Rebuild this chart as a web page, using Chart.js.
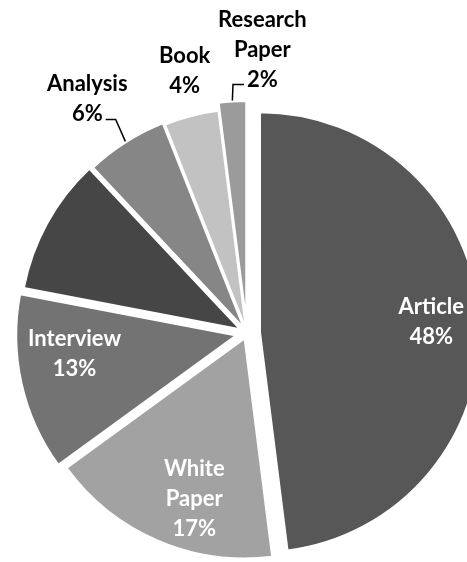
<!DOCTYPE html>
<html>
<head>
<meta charset="utf-8">
<script src="https://cdn.jsdelivr.net/npm/chart.js@4.4.1/dist/chart.umd.min.js"></script>
<style>
  html, body { margin: 0; padding: 0; background: #fff; }
</style>
</head>
<body>
<canvas id="pie" width="467" height="562"></canvas>
<script>
// data
const categories = ['Article', 'White Paper', 'Interview', '', 'Analysis', 'Book', 'Research Paper'];
const shares = [48, 17, 13, 10, 6, 4, 2];

// style
const sliceColours = ['#575757', '#a2a2a2', '#737373', '#464646', '#868686', '#c2c2c2', '#9b9b9b'];
const explode = [13, 6, 11, 8, 6, 4, 12];
const labelPlacement = [
  { inside: true, r: 0.78, shift: 0 },
  { inside: true, r: 0.765, shift: -6 },
  { inside: true, r: 0.74, shift: 6 },
  null,
  { inside: false, r: 57, shift: -2, leader: 'right' },
  { inside: false, r: 45, shift: 1 },
  { inside: false, r: 52, shift: 7, leader: 'left' }
];
const lineHeight = 30;

// pull each slice out along its middle angle
const explodeSlices = {
  id: 'explodeSlices',
  afterDatasetUpdate(chart, args) {
    args.meta.data.forEach((arc, i) => {
      const mid = (arc.startAngle + arc.endAngle) / 2;
      arc.x += Math.cos(mid) * explode[i];
      arc.y += Math.sin(mid) * explode[i];
    });
  }
};

const sliceLabels = {
  id: 'sliceLabels',
  afterDatasetsDraw(chart) {
    const ctx = chart.ctx;
    const arcs = chart.getDatasetMeta(0).data;
    ctx.save();
    ctx.font = 'bold 22px Lato';
    ctx.textAlign = 'center';
    ctx.textBaseline = 'middle';
    arcs.forEach((arc, i) => {
      const p = labelPlacement[i];
      if (!categories[i] || !p) return;
      const mid = (arc.startAngle + arc.endAngle) / 2;
      const ang = mid + p.shift * Math.PI / 180;
      const r = p.inside ? arc.outerRadius * p.r : arc.outerRadius + p.r;
      const cx = arc.x + Math.cos(ang) * r;
      const cy = arc.y + Math.sin(ang) * r;
      const lines = categories[i].split(' ').concat(shares[i] + '%');
      const top = cy - (lines.length - 1) * lineHeight / 2;
      ctx.fillStyle = p.inside ? '#ffffff' : '#000000';
      lines.forEach((t, k) => ctx.fillText(t, cx, top + k * lineHeight));

      if (p.leader) {
        const lastY = top + (lines.length - 1) * lineHeight + 5;
        const w = ctx.measureText(lines[lines.length - 1]).width;
        const ax = p.leader === 'right' ? cx + w / 2 + 3 : cx - w / 2 - 3;
        const ex = p.leader === 'right' ? ax + 10 : ax - 11;
        const px = arc.x + Math.cos(mid) * (arc.outerRadius + 1);
        const py = arc.y + Math.sin(mid) * (arc.outerRadius + 1);
        ctx.strokeStyle = '#000000';
        ctx.lineWidth = 1.5;
        ctx.beginPath();
        ctx.moveTo(ax, lastY);
        ctx.lineTo(ex, lastY);
        ctx.lineTo(px, py);
        ctx.stroke();
      }
    });
    ctx.restore();
  }
};

new Chart(document.getElementById('pie'), {
  type: 'pie',
  data: {
    labels: categories,
    datasets: [{
      data: shares,
      backgroundColor: sliceColours,
      borderColor: '#ffffff',
      borderWidth: 2,
      clip: false
    }]
  },
  options: {
    responsive: false,
    animation: false,
    radius: 220,
    layout: { padding: { left: 27, top: 104, right: 0, bottom: 0 } },
    plugins: {
      legend: { display: false },
      tooltip: { enabled: false }
    }
  },
  plugins: [explodeSlices, sliceLabels]
});
</script>
</body>
</html>
